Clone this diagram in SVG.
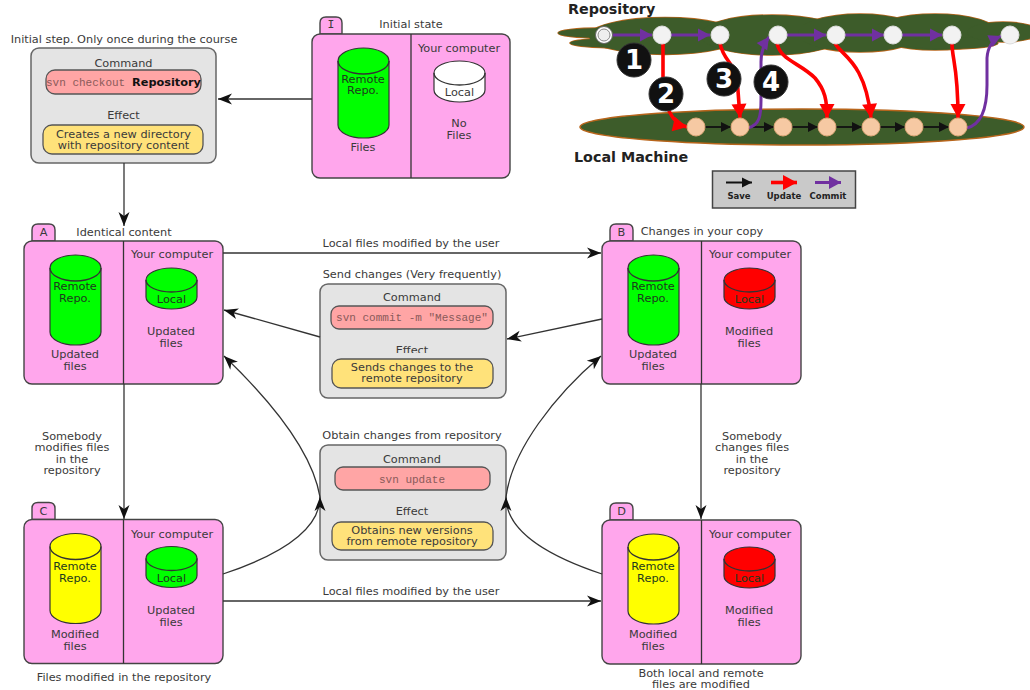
<svg xmlns="http://www.w3.org/2000/svg" width="1030" height="690" viewBox="0 0 1030 690">
<style>
text{font-family:"DejaVu Sans","Liberation Sans",sans-serif;font-size:11.3px;fill:#3a3a3a;text-anchor:middle}
.panel{fill:#ffa6ec;stroke:#444;stroke-width:1.4}
.div{stroke:#333;stroke-width:1.3;fill:none}
.cyl{stroke:#333;stroke-width:1.2}
.g{fill:#00ff00}.y{fill:#ffff00}.r{fill:#ff0000}.w{fill:#fff}
.in{fill:#1d3a1d}
.cmd{fill:#e4e4e4;stroke:#666;stroke-width:1.5}
.pk{fill:#ffa5a5;stroke:#555;stroke-width:1.3}
.ye{fill:#ffe27a;stroke:#555;stroke-width:1.3}
.mono{font-family:"Liberation Mono","DejaVu Sans Mono",monospace;font-size:11px;fill:#8a5a5a}
.con{fill:none;stroke:#333;stroke-width:1.3}
.blob{fill:#3d5c2a;stroke:#b8651b;stroke-width:1.5}
.fillb{fill:#3d5c2a}
.pu{fill:none;stroke:#7030a0;stroke-width:3}
.re{fill:none;stroke:#ff0000;stroke-width:3.6}
.bl{fill:none;stroke:#111;stroke-width:1.8}
.nt{fill:#f2f2f2;stroke:#ddd;stroke-width:1}
.nb{fill:#f6c9a3;stroke:#dda878;stroke-width:1}
.bd{fill:#111;stroke:#333;stroke-width:1}
.num{font-weight:bold;font-size:26px;fill:#fff}
.hd{font-weight:bold;font-size:14.300px;fill:#222;text-anchor:start}
.lg{font-weight:bold;font-size:8.500px;fill:#222}
</style>
<defs>
<marker id="a" markerUnits="userSpaceOnUse" markerWidth="18" markerHeight="14" refX="15" refY="7" orient="auto"><path d="M15,7 L1,1.5 L5,7 L1,12.5 Z" fill="#111"/></marker>
<marker id="ap" markerUnits="userSpaceOnUse" markerWidth="16" markerHeight="16" refX="13" refY="8" orient="auto"><path d="M13,8 L1,1.5 L1,14.5 Z" fill="#7030a0"/></marker>
<marker id="ar" markerUnits="userSpaceOnUse" markerWidth="18" markerHeight="18" refX="15" refY="9" orient="auto"><path d="M15,9 L1,1.5 L1,16.5 Z" fill="#ff0000"/></marker>
<marker id="ab" markerUnits="userSpaceOnUse" markerWidth="14" markerHeight="12" refX="11" refY="6" orient="auto"><path d="M11,6 L1,1 L1,11 Z" fill="#111"/></marker>
<g id="tall"><path class="cyl" d="M0,13 A25.5,13 0 0 1 51,13 V77 A25.5,13 0 0 1 0,77 Z"/><path class="div" d="M0,13 A25.5,13 0 0 0 51,13"/></g>
<g id="short"><path class="cyl" d="M0,12 A25.5,12 0 0 1 51,12 V29 A25.5,12 0 0 1 0,29 Z"/><path class="div" d="M0,12 A25.5,12 0 0 0 51,12"/></g>
<g id="bands">
<ellipse cx="600" cy="33" rx="42" ry="5"/>
<ellipse cx="620" cy="43" rx="50" ry="5"/>
<ellipse cx="665" cy="36" rx="76" ry="18.500"/>
<ellipse cx="772" cy="35" rx="72" ry="20"/>
<ellipse cx="860" cy="33" rx="62" ry="19"/>
<ellipse cx="935" cy="32" rx="62" ry="18"/>
<ellipse cx="950" cy="43" rx="48" ry="6"/>
<ellipse cx="1003" cy="32" rx="36" ry="10"/>
</g>
</defs>

<g id="repo-history">
<use href="#bands" class="blob"/>
<use href="#bands" class="fillb"/>
<ellipse class="blob" cx="802" cy="127" rx="222" ry="18"/>
<text class="hd" x="568" y="14">Repository</text>
<text class="hd" x="574" y="162">Local Machine</text>
</g>

<g id="history-arrows">
<path class="bl" marker-end="url(#ab)" d="M705,127H731"/>
<path class="bl" marker-end="url(#ab)" d="M749,127H774"/>
<path class="bl" marker-end="url(#ab)" d="M792,127H818"/>
<path class="bl" marker-end="url(#ab)" d="M836,127H862"/>
<path class="bl" marker-end="url(#ab)" d="M880,127H905"/>
<path class="bl" marker-end="url(#ab)" d="M923,127H949"/>
<path class="pu" marker-end="url(#ap)" d="M613,35H652"/>
<path class="pu" marker-end="url(#ap)" d="M670,35H710"/>
<path class="pu" marker-end="url(#ap)" d="M787,35H826"/>
<path class="pu" marker-end="url(#ap)" d="M845,35H884"/>
<path class="pu" marker-end="url(#ap)" d="M902,35H942"/>
<path class="pu" marker-end="url(#ap)" d="M748,128C760,125 761,115 761,100L761,62Q761,48 769,37"/>
<path class="pu" marker-end="url(#ap)" d="M967,128C983,124 987,105 987,85L987,58Q988,42 1001,36"/>
<path class="re" marker-end="url(#ar)" d="M663,43L663,77Q664,122 687,127"/>
<path class="re" marker-end="url(#ar)" d="M720,43C723,60 733,62 737,77L740,118"/>
<path class="re" marker-end="url(#ar)" d="M777,43C780,60 800,63 815,78C825,90 827,100 827,118"/>
<path class="re" marker-end="url(#ar)" d="M835,43C840,55 865,60 871,118"/>
<path class="re" marker-end="url(#ar)" d="M952,43C952,60 958,65 958,118"/>
</g>

<g id="history-nodes">
<circle class="nt" cx="604" cy="35" r="8.500" style="fill:#fff;stroke:#666"/><circle class="nt" cx="604" cy="35" r="6" style="fill:#eee;stroke:#888"/>
<circle class="nt" cx="662" cy="35" r="9"/><circle class="nt" cx="720" cy="35" r="9"/><circle class="nt" cx="778" cy="35" r="9"/><circle class="nt" cx="836" cy="35" r="9"/><circle class="nt" cx="893" cy="35" r="9"/><circle class="nt" cx="952" cy="35" r="9"/><circle class="nt" cx="1010" cy="35" r="9"/>
<circle class="nb" cx="696" cy="127" r="9"/><circle class="nb" cx="740" cy="127" r="9"/><circle class="nb" cx="783" cy="127" r="9"/><circle class="nb" cx="827" cy="127" r="9"/><circle class="nb" cx="871" cy="127" r="9"/><circle class="nb" cx="914" cy="127" r="9"/><circle class="nb" cx="958" cy="127" r="9"/>
<circle class="bd" cx="634" cy="60" r="17"/><text class="num" x="634" y="69">1</text>
<circle class="bd" cx="666" cy="94" r="17"/><text class="num" x="666" y="103">2</text>
<circle class="bd" cx="724" cy="79" r="17"/><text class="num" x="724" y="88">3</text>
<circle class="bd" cx="771" cy="82" r="17"/><text class="num" x="771" y="91">4</text>
</g>

<g id="legend">
<rect x="712.500" y="171" width="143" height="37" fill="#c9c9c9" stroke="#444" stroke-width="1.500"/>
<path class="bl" marker-end="url(#ab)" d="M726,182.500H752" style="stroke-width:2"/>
<path class="re" marker-end="url(#ar)" d="M771,182.500H797"/>
<path class="pu" marker-end="url(#ap)" d="M815,182.500H841"/>
<text class="lg" x="739" y="199">Save</text><text class="lg" x="784" y="199">Update</text><text class="lg" x="828" y="199">Commit</text>
</g>

<g id="checkout">
<text x="124" y="43">Initial step. Only once during the course</text>
<rect class="cmd" x="31" y="48" width="185" height="115" rx="8"/>
<text x="123.500" y="67">Command</text>
<rect class="pk" x="46" y="70" width="155" height="24" rx="9"/>
<text class="mono" x="46" y="86" style="text-anchor:start">svn checkout</text>
<text x="166.500" y="86" style="font-weight:bold;fill:#111">Repository</text>
<text x="123.500" y="119">Effect</text>
<rect class="ye" x="43" y="125" width="160" height="29" rx="9"/>
<text x="123.500" y="138">Creates a new directory</text><text x="123.500" y="149">with repository content</text>
</g>

<g id="commit">
<text x="412" y="278">Send changes (Very frequently)</text>
<rect class="cmd" x="320" y="284" width="186" height="114" rx="8"/>
<text x="412" y="301">Command</text>
<text x="412" y="354">Effect</text>
<rect x="380" y="353" width="64" height="6" fill="#e4e4e4"/>
<rect class="pk" x="331" y="306" width="162" height="23" rx="8"/>
<text class="mono" x="412" y="321">svn commit -m "Message"</text>
<rect class="ye" x="332" y="359" width="161" height="29" rx="9"/>
<text x="412" y="371">Sends changes to the</text><text x="412" y="382">remote repository</text>
</g>

<g id="update">
<text x="412" y="439">Obtain changes from repository</text>
<rect class="cmd" x="320" y="445" width="186" height="115" rx="8"/>
<text x="412" y="463">Command</text>
<rect class="pk" x="335" y="467" width="155" height="23" rx="8"/>
<text class="mono" x="412" y="483">svn update</text>
<text x="412" y="515">Effect</text>
<rect class="ye" x="332" y="522" width="161" height="28" rx="9"/>
<text x="412" y="534">Obtains new versions</text><text x="412" y="545">from remote repository</text>
</g>

<g id="state-I" transform="translate(312,34)">
<path class="panel" d="M8,0V-11Q8,-17 14,-17H24Q30,-17 30,-11V0Z"/>
<rect class="panel" width="198" height="144" rx="8"/>
<path class="div" d="M99,0V144"/>
<text x="19" y="-6" style="font-family:'DejaVu Sans Mono',monospace">I</text>
<text x="99" y="-6">Initial state</text>
<use href="#tall" class="g" x="26" y="14"/>
<text class="in" x="51" y="49">Remote</text><text class="in" x="51" y="60">Repo.</text>
<text x="51" y="117">Files</text>
<text x="147" y="18">Your computer</text>
<use href="#short" class="w" x="122" y="27"/>
<text x="147.500" y="62">Local</text>
<text x="147" y="93">No</text><text x="147" y="105">Files</text>
</g>

<g id="state-A" transform="translate(24,241)">
<path class="panel" d="M8,0V-11Q8,-17 14,-17H25Q31,-17 31,-11V0Z"/>
<rect class="panel" width="199" height="143" rx="8"/>
<path class="div" d="M99.500,0V143"/>
<text x="19.500" y="-5">A</text>
<text x="100" y="-5">Identical content</text>
<use href="#tall" class="g" x="26" y="14"/>
<text class="in" x="51" y="49">Remote</text><text class="in" x="51" y="61">Repo.</text>
<text x="51" y="117">Updated</text><text x="51" y="129">files</text>
<text x="148" y="17">Your computer</text>
<use href="#short" class="g" x="122" y="27"/>
<text class="in" x="147.500" y="62">Local</text>
<text x="147" y="94">Updated</text><text x="147" y="106">files</text>
</g>

<g id="state-B" transform="translate(602,241)">
<path class="panel" d="M8,0V-11Q8,-17 14,-17H25Q31,-17 31,-11V0Z"/>
<rect class="panel" width="199" height="143" rx="8"/>
<path class="div" d="M99.500,0V143"/>
<text x="19.500" y="-5">B</text>
<text x="100" y="-6">Changes in your copy</text>
<use href="#tall" class="g" x="26" y="14"/>
<text class="in" x="51" y="49">Remote</text><text class="in" x="51" y="61">Repo.</text>
<text x="51" y="117">Updated</text><text x="51" y="129">files</text>
<text x="148" y="17">Your computer</text>
<use href="#short" class="r" x="122" y="27"/>
<text class="in" x="147.500" y="62">Local</text>
<text x="147" y="94">Modified</text><text x="147" y="106">files</text>
</g>

<g id="state-C" transform="translate(24,519.500)">
<path class="panel" d="M8,0V-11Q8,-17 14,-17H25Q31,-17 31,-11V0Z"/>
<rect class="panel" width="199" height="144" rx="8"/>
<path class="div" d="M99.500,0V144"/>
<text x="19.500" y="-5">C</text>
<use href="#tall" class="y" x="26" y="14"/>
<text class="in" x="51" y="50">Remote</text><text class="in" x="51" y="62">Repo.</text>
<text x="51" y="118">Modified</text><text x="51" y="130">files</text>
<text x="148" y="18">Your computer</text>
<use href="#short" class="g" x="122" y="27"/>
<text class="in" x="147.500" y="62">Local</text>
<text x="147" y="94">Updated</text><text x="147" y="106">files</text>
<text x="100" y="161">Files modified in the repository</text>
</g>

<g id="state-D" transform="translate(602,520)">
<path class="panel" d="M8,0V-11Q8,-17 14,-17H25Q31,-17 31,-11V0Z"/>
<rect class="panel" width="199" height="144" rx="8"/>
<path class="div" d="M99.500,0V144"/>
<text x="19.500" y="-5">D</text>
<use href="#tall" class="y" x="26" y="14"/>
<text class="in" x="51" y="50">Remote</text><text class="in" x="51" y="62">Repo.</text>
<text x="51" y="118">Modified</text><text x="51" y="130">files</text>
<text x="148" y="18">Your computer</text>
<use href="#short" class="r" x="122" y="27"/>
<text class="in" x="147.500" y="62">Local</text>
<text x="147" y="94">Modified</text><text x="147" y="106">files</text>
<text x="99" y="157">Both local and remote</text><text x="99" y="168">files are modified</text>
</g>

<g id="connectors">
<path class="con" marker-end="url(#a)" d="M312,99H218"/>
<path class="con" marker-end="url(#a)" d="M124,163V226"/>
<path class="con" marker-end="url(#a)" d="M223,253H601"/>
<path class="con" marker-end="url(#a)" d="M602,319L507,339"/>
<path class="con" marker-end="url(#a)" d="M320,337L224,310"/>
<path class="con" marker-end="url(#a)" d="M124,384V519"/>
<path class="con" marker-end="url(#a)" d="M701,384V519"/>
<path class="con" marker-end="url(#a)" d="M223,601H601"/>
<path class="con" marker-end="url(#a)" d="M223,574C280,555 320,530 320,497"/>
<path class="con" marker-end="url(#a)" d="M602,574C545,555 506,530 506,497"/>
<path class="con" marker-end="url(#a)" d="M320,497C312,450 270,400 224,356"/>
<path class="con" marker-end="url(#a)" d="M506,497C512,450 555,395 601,356"/>
<text x="411" y="247">Local files modified by the user</text>
<text x="411" y="595">Local files modified by the user</text>
<text x="72" y="440">Somebody</text><text x="72" y="451">modifies files</text><text x="72" y="463">in the</text><text x="72" y="474">repository</text>
<text x="752" y="440">Somebody</text><text x="752" y="451">changes files</text><text x="752" y="463">in the</text><text x="752" y="474">repository</text>
</g>
</svg>
